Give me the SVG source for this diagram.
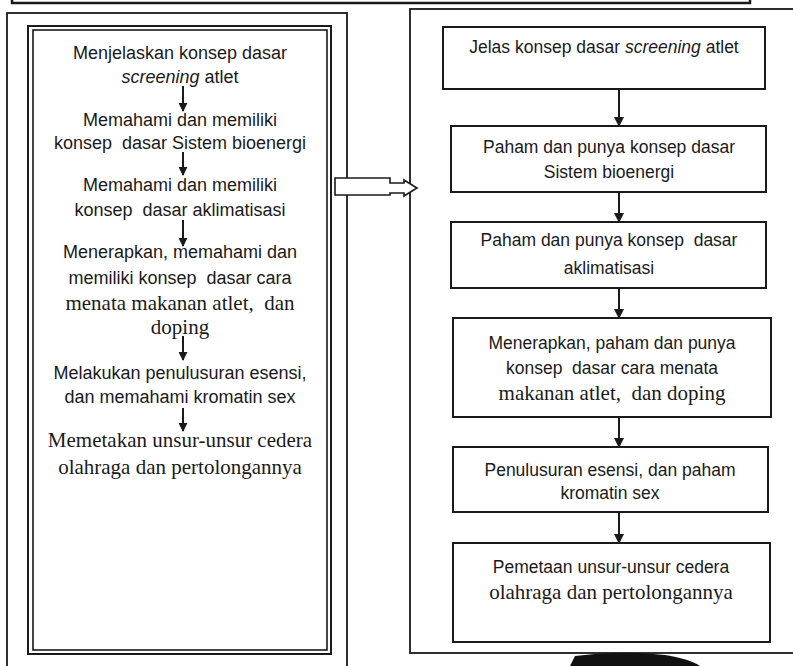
<svg xmlns="http://www.w3.org/2000/svg" width="793" height="666" viewBox="0 0 793 666">
<defs>
<marker id="ah" viewBox="0 0 10 10" refX="9" refY="5" markerWidth="9" markerHeight="9" orient="auto" markerUnits="userSpaceOnUse">
<path d="M0,0 L10,5 L0,10 Z" fill="#1a1a1a"/>
</marker>
<marker id="ah2" viewBox="0 0 10 10" refX="9" refY="5" markerWidth="10" markerHeight="10" orient="auto" markerUnits="userSpaceOnUse">
<path d="M0,0 L10,5 L0,10 Z" fill="#1a1a1a"/>
</marker>
<style>
text{fill:#1a1a1a;text-anchor:middle;white-space:pre}
.s{font-family:"Liberation Sans",Arial,sans-serif;font-size:18px}
.r{font-family:"Liberation Sans",Arial,sans-serif;font-size:17.5px}
.f{font-family:"Liberation Serif","Times New Roman",serif;font-size:21px}
.box{fill:#fff;stroke:#1a1a1a;stroke-width:2}
.frame{fill:none;stroke:#1a1a1a}
.con{stroke:#1a1a1a;stroke-width:2;fill:none}
</style>
</defs>
<rect width="793" height="666" fill="#fff"/>
<g id="frames">
<rect class="frame" x="12" y="-20" width="738" height="23" stroke-width="2.5"/>
<rect class="frame" x="7" y="13" width="340" height="680" stroke-width="1.8"/>
<rect class="frame" x="28" y="26" width="303" height="628" stroke-width="2"/>
<rect class="frame" x="33" y="30" width="294" height="620" stroke-width="1.6"/>
<rect class="frame" x="410" y="9" width="400" height="644" stroke-width="1.8"/>
<path d="M570 666 L575 656 Q620 650 665 655 Q690 659 700 666 Z" fill="#111"/>
</g>
<g id="transfer-arrow">
<polygon points="335,178 390,178 390,183 404,183 404,180 417,188 404,196 404,193 390,193 390,195 335,195" fill="#fff" stroke="#1a1a1a" stroke-width="1.6"/>
</g>
<g id="connectors">
<line class="con" x1="183" y1="86" x2="183" y2="111" marker-end="url(#ah)"/>
<line class="con" x1="183" y1="152" x2="183" y2="175" marker-end="url(#ah)"/>
<line class="con" x1="183" y1="220" x2="183" y2="246" marker-end="url(#ah)"/>
<line class="con" x1="183" y1="336" x2="183" y2="360" marker-end="url(#ah)"/>
<line class="con" x1="183" y1="408" x2="183" y2="431" marker-end="url(#ah)"/>
<line class="con" x1="619" y1="89" x2="619" y2="126" marker-end="url(#ah2)"/>
<line class="con" x1="619" y1="192" x2="619" y2="222" marker-end="url(#ah2)"/>
<line class="con" x1="619" y1="288" x2="619" y2="318" marker-end="url(#ah2)"/>
<line class="con" x1="619" y1="417" x2="619" y2="447" marker-end="url(#ah2)"/>
<line class="con" x1="619" y1="512" x2="619" y2="543" marker-end="url(#ah2)"/>
</g>
<g id="L1">
<text class="s" x="180" y="59">Menjelaskan konsep dasar</text>
<text class="s" x="180" y="83"><tspan font-style="italic">screening</tspan> atlet</text>
</g>
<g id="L2">
<text class="s" x="180" y="126">Memahami dan memiliki</text>
<text class="s" x="180" y="149">konsep  dasar Sistem bioenergi</text>
</g>
<g id="L3">
<text class="s" x="180" y="191">Memahami dan memiliki</text>
<text class="s" x="180" y="216">konsep  dasar aklimatisasi</text>
</g>
<g id="L4">
<text class="s" x="180" y="258">Menerapkan, memahami dan</text>
<text class="s" x="180" y="284">memiliki konsep  dasar cara</text>
<text class="f" x="180" y="310">menata makanan atlet,  dan</text>
<text class="f" x="180" y="334">doping</text>
</g>
<g id="L5">
<text class="s" x="180" y="379">Melakukan penulusuran esensi,</text>
<text class="s" x="180" y="403">dan memahami kromatin sex</text>
</g>
<g id="L6">
<text class="f" x="180" y="447">Memetakan unsur-unsur cedera</text>
<text class="f" x="180" y="474">olahraga dan pertolongannya</text>
</g>
<g id="R1">
<rect class="box" x="443" y="27" width="322" height="62"/>
<text class="r" x="604" y="53">Jelas konsep dasar <tspan font-style="italic">screening</tspan> atlet</text>
</g>
<g id="R2">
<rect class="box" x="451" y="126" width="315" height="66"/>
<text class="r" x="609" y="153">Paham dan punya konsep dasar</text>
<text class="r" x="609" y="178">Sistem bioenergi</text>
</g>
<g id="R3">
<rect class="box" x="451" y="222" width="315" height="66"/>
<text class="r" x="609" y="246">Paham dan punya konsep  dasar</text>
<text class="r" x="609" y="274">aklimatisasi</text>
</g>
<g id="R4">
<rect class="box" x="453" y="318" width="318" height="99"/>
<text class="r" x="612" y="349">Menerapkan, paham dan punya</text>
<text class="r" x="612" y="374">konsep  dasar cara menata</text>
<text class="f" x="612" y="400">makanan atlet,  dan doping</text>
</g>
<g id="R5">
<rect class="box" x="453" y="447" width="315" height="65"/>
<text class="r" x="610" y="476">Penulusuran esensi, dan paham</text>
<text class="r" x="610" y="499">kromatin sex</text>
</g>
<g id="R6">
<rect class="box" x="453" y="543" width="317" height="99"/>
<text class="r" x="611" y="573">Pemetaan unsur-unsur cedera</text>
<text class="f" x="611" y="599">olahraga dan pertolongannya</text>
</g>
</svg>
